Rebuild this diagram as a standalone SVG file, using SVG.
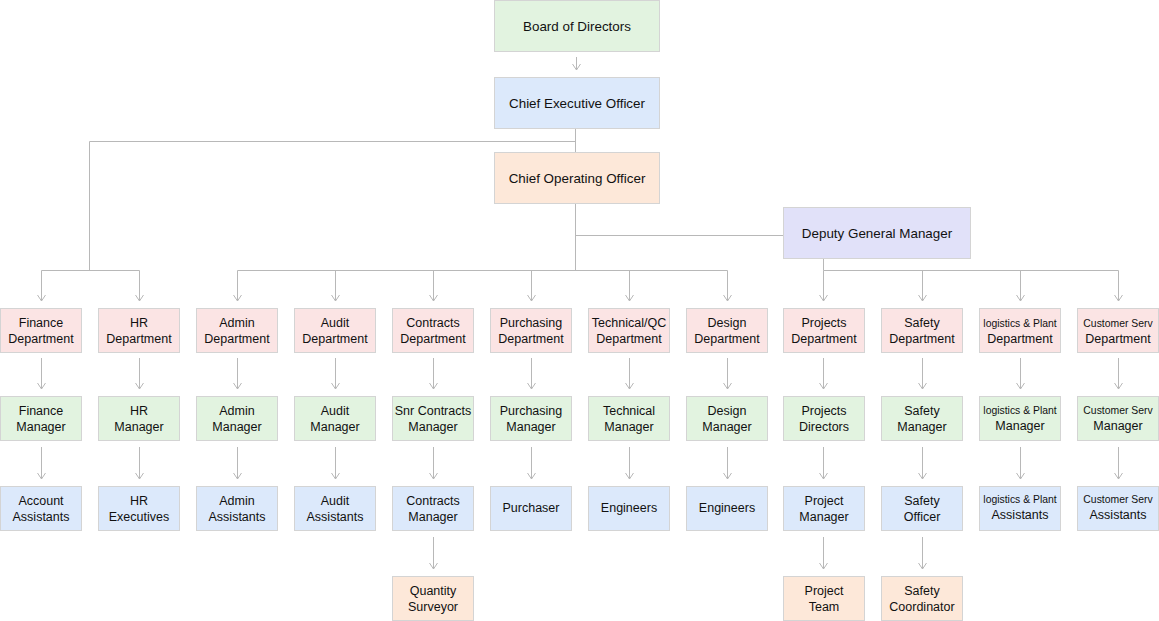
<svg xmlns="http://www.w3.org/2000/svg" width="1159" height="621" viewBox="0 0 1159 621">
<defs>
<marker id="arr" viewBox="0 0 10 10" refX="8" refY="5" markerWidth="10" markerHeight="10" markerUnits="userSpaceOnUse" orient="auto">
<path d="M2,1 L8,5 L2,9" fill="none" stroke="#b8b8b8" stroke-width="1"/>
</marker>
<style>
rect{stroke:#d4d4d4;stroke-width:1}
.pk{fill:#fbe4e4}.gr{fill:#e2f3e0}.bl{fill:#dce9fb}.pe{fill:#fde8d9}.lv{fill:#e1e1f9}
text{font-family:"Liberation Sans",Arial,sans-serif;font-size:12.5px;fill:#111;text-anchor:middle}
.big{font-size:13.4px}
.sm{font-size:10.4px}
#connectors path{fill:none;stroke:#b8b8b8;stroke-width:1}
.a{marker-end:url(#arr)}
</style>
</defs>
<rect x="0" y="0" width="1159" height="621" fill="#fff" style="stroke:none"/>
<g id="connectors">
<path class="a" d="M576.5,57 V70"/>
<path d="M575.5,128 V152 M575.5,141.5 H89.5 V270.5 M41.5,270.5 H139.5"/>
<path d="M575.5,203 V270.5 M575.5,235.5 H783 M237.5,270.5 H727.5 M823.5,258 V270.5 H1118.5"/>
<path class="a" d="M41.5,270.5 V301"/>
<path class="a" d="M139.5,270.5 V301"/>
<path class="a" d="M237.5,270.5 V301"/>
<path class="a" d="M335.5,270.5 V301"/>
<path class="a" d="M433.5,270.5 V301"/>
<path class="a" d="M531.5,270.5 V301"/>
<path class="a" d="M629.5,270.5 V301"/>
<path class="a" d="M727.5,270.5 V301"/>
<path class="a" d="M823.5,270.5 V301"/>
<path class="a" d="M922.5,270.5 V301"/>
<path class="a" d="M1020.5,270.5 V301"/>
<path class="a" d="M1118.5,270.5 V301"/>
<path class="a" d="M41.5,358 V389"/><path class="a" d="M41.5,447 V479"/>
<path class="a" d="M139.5,358 V389"/><path class="a" d="M139.5,447 V479"/>
<path class="a" d="M237.5,358 V389"/><path class="a" d="M237.5,447 V479"/>
<path class="a" d="M335.5,358 V389"/><path class="a" d="M335.5,447 V479"/>
<path class="a" d="M433.5,358 V389"/><path class="a" d="M433.5,447 V479"/><path class="a" d="M433.5,537 V569"/>
<path class="a" d="M531.5,358 V389"/><path class="a" d="M531.5,447 V479"/>
<path class="a" d="M629.5,358 V389"/><path class="a" d="M629.5,447 V479"/>
<path class="a" d="M727.5,358 V389"/><path class="a" d="M727.5,447 V479"/>
<path class="a" d="M823.5,358 V389"/><path class="a" d="M823.5,447 V479"/><path class="a" d="M823.5,537 V569"/>
<path class="a" d="M922.5,358 V389"/><path class="a" d="M922.5,447 V479"/><path class="a" d="M922.5,537 V569"/>
<path class="a" d="M1020.5,358 V389"/><path class="a" d="M1020.5,447 V479"/>
<path class="a" d="M1118.5,358 V389"/><path class="a" d="M1118.5,447 V479"/>
</g>
<g id="board"><rect class="gr" x="494.5" y="0.5" width="165" height="51"/><text class="big" x="577" y="31">Board of Directors</text></g>
<g id="ceo"><rect class="bl" x="494.5" y="77.5" width="165" height="51"/><text class="big" x="577" y="108">Chief Executive Officer</text></g>
<g id="coo"><rect class="pe" x="494.5" y="152.5" width="165" height="51"/><text class="big" x="577" y="183">Chief Operating Officer</text></g>
<g id="dgm"><rect class="lv" x="783.5" y="207.5" width="187" height="51"/><text class="big" x="877" y="238">Deputy General Manager</text></g>

<g id="finance-dept"><rect class="pk" x="0.5" y="308.5" width="81" height="44"/><text x="41" y="327">Finance</text><text x="41" y="343">Department</text></g>
<g id="hr-dept"><rect class="pk" x="98.5" y="308.5" width="81" height="44"/><text x="139" y="327">HR</text><text x="139" y="343">Department</text></g>
<g id="admin-dept"><rect class="pk" x="196.5" y="308.5" width="81" height="44"/><text x="237" y="327">Admin</text><text x="237" y="343">Department</text></g>
<g id="audit-dept"><rect class="pk" x="294.5" y="308.5" width="81" height="44"/><text x="335" y="327">Audit</text><text x="335" y="343">Department</text></g>
<g id="contracts-dept"><rect class="pk" x="392.5" y="308.5" width="81" height="44"/><text x="433" y="327">Contracts</text><text x="433" y="343">Department</text></g>
<g id="purchasing-dept"><rect class="pk" x="490.5" y="308.5" width="81" height="44"/><text x="531" y="327">Purchasing</text><text x="531" y="343">Department</text></g>
<g id="technical-dept"><rect class="pk" x="588.5" y="308.5" width="81" height="44"/><text x="629" y="327">Technical/QC</text><text x="629" y="343">Department</text></g>
<g id="design-dept"><rect class="pk" x="686.5" y="308.5" width="81" height="44"/><text x="727" y="327">Design</text><text x="727" y="343">Department</text></g>
<g id="projects-dept"><rect class="pk" x="783.5" y="308.5" width="81" height="44"/><text x="824" y="327">Projects</text><text x="824" y="343">Department</text></g>
<g id="safety-dept"><rect class="pk" x="881.5" y="308.5" width="81" height="44"/><text x="922" y="327">Safety</text><text x="922" y="343">Department</text></g>
<g id="logistics-dept"><rect class="pk" x="979.5" y="308.5" width="81" height="44"/><text class="sm" x="1020" y="327">logistics &amp; Plant</text><text x="1020" y="343">Department</text></g>
<g id="custserv-dept"><rect class="pk" x="1077.5" y="308.5" width="81" height="44"/><text class="sm" x="1118" y="327">Customer Serv</text><text x="1118" y="343">Department</text></g>

<g id="finance-mgr"><rect class="gr" x="0.5" y="396.5" width="81" height="44"/><text x="41" y="415">Finance</text><text x="41" y="431">Manager</text></g>
<g id="hr-mgr"><rect class="gr" x="98.5" y="396.5" width="81" height="44"/><text x="139" y="415">HR</text><text x="139" y="431">Manager</text></g>
<g id="admin-mgr"><rect class="gr" x="196.5" y="396.5" width="81" height="44"/><text x="237" y="415">Admin</text><text x="237" y="431">Manager</text></g>
<g id="audit-mgr"><rect class="gr" x="294.5" y="396.5" width="81" height="44"/><text x="335" y="415">Audit</text><text x="335" y="431">Manager</text></g>
<g id="contracts-mgr"><rect class="gr" x="392.5" y="396.5" width="81" height="44"/><text x="433" y="415">Snr Contracts</text><text x="433" y="431">Manager</text></g>
<g id="purchasing-mgr"><rect class="gr" x="490.5" y="396.5" width="81" height="44"/><text x="531" y="415">Purchasing</text><text x="531" y="431">Manager</text></g>
<g id="technical-mgr"><rect class="gr" x="588.5" y="396.5" width="81" height="44"/><text x="629" y="415">Technical</text><text x="629" y="431">Manager</text></g>
<g id="design-mgr"><rect class="gr" x="686.5" y="396.5" width="81" height="44"/><text x="727" y="415">Design</text><text x="727" y="431">Manager</text></g>
<g id="projects-dir"><rect class="gr" x="783.5" y="396.5" width="81" height="44"/><text x="824" y="415">Projects</text><text x="824" y="431">Directors</text></g>
<g id="safety-mgr"><rect class="gr" x="881.5" y="396.5" width="81" height="44"/><text x="922" y="415">Safety</text><text x="922" y="431">Manager</text></g>
<g id="logistics-mgr"><rect class="gr" x="979.5" y="396.5" width="81" height="44"/><text class="sm" x="1020" y="414">logistics &amp; Plant</text><text x="1020" y="430">Manager</text></g>
<g id="custserv-mgr"><rect class="gr" x="1077.5" y="396.5" width="81" height="44"/><text class="sm" x="1118" y="414">Customer Serv</text><text x="1118" y="430">Manager</text></g>

<g id="account-asst"><rect class="bl" x="0.5" y="486.5" width="81" height="44"/><text x="41" y="505">Account</text><text x="41" y="521">Assistants</text></g>
<g id="hr-exec"><rect class="bl" x="98.5" y="486.5" width="81" height="44"/><text x="139" y="505">HR</text><text x="139" y="521">Executives</text></g>
<g id="admin-asst"><rect class="bl" x="196.5" y="486.5" width="81" height="44"/><text x="237" y="505">Admin</text><text x="237" y="521">Assistants</text></g>
<g id="audit-asst"><rect class="bl" x="294.5" y="486.5" width="81" height="44"/><text x="335" y="505">Audit</text><text x="335" y="521">Assistants</text></g>
<g id="contracts-mgr2"><rect class="bl" x="392.5" y="486.5" width="81" height="44"/><text x="433" y="505">Contracts</text><text x="433" y="521">Manager</text></g>
<g id="purchaser"><rect class="bl" x="490.5" y="486.5" width="81" height="44"/><text x="531" y="512">Purchaser</text></g>
<g id="tech-eng"><rect class="bl" x="588.5" y="486.5" width="81" height="44"/><text x="629" y="512">Engineers</text></g>
<g id="design-eng"><rect class="bl" x="686.5" y="486.5" width="81" height="44"/><text x="727" y="512">Engineers</text></g>
<g id="project-mgr"><rect class="bl" x="783.5" y="486.5" width="81" height="44"/><text x="824" y="505">Project</text><text x="824" y="521">Manager</text></g>
<g id="safety-officer"><rect class="bl" x="881.5" y="486.5" width="81" height="44"/><text x="922" y="505">Safety</text><text x="922" y="521">Officer</text></g>
<g id="logistics-asst"><rect class="bl" x="979.5" y="486.5" width="81" height="44"/><text class="sm" x="1020" y="503">logistics &amp; Plant</text><text x="1020" y="519">Assistants</text></g>
<g id="custserv-asst"><rect class="bl" x="1077.5" y="486.5" width="81" height="44"/><text class="sm" x="1118" y="503">Customer Serv</text><text x="1118" y="519">Assistants</text></g>

<g id="qs"><rect class="pe" x="392.5" y="576.5" width="81" height="44"/><text x="433" y="595">Quantity</text><text x="433" y="611">Surveyor</text></g>
<g id="project-team"><rect class="pe" x="783.5" y="576.5" width="81" height="44"/><text x="824" y="595">Project</text><text x="824" y="611">Team</text></g>
<g id="safety-coord"><rect class="pe" x="881.5" y="576.5" width="81" height="44"/><text x="922" y="595">Safety</text><text x="922" y="611">Coordinator</text></g>
</svg>
